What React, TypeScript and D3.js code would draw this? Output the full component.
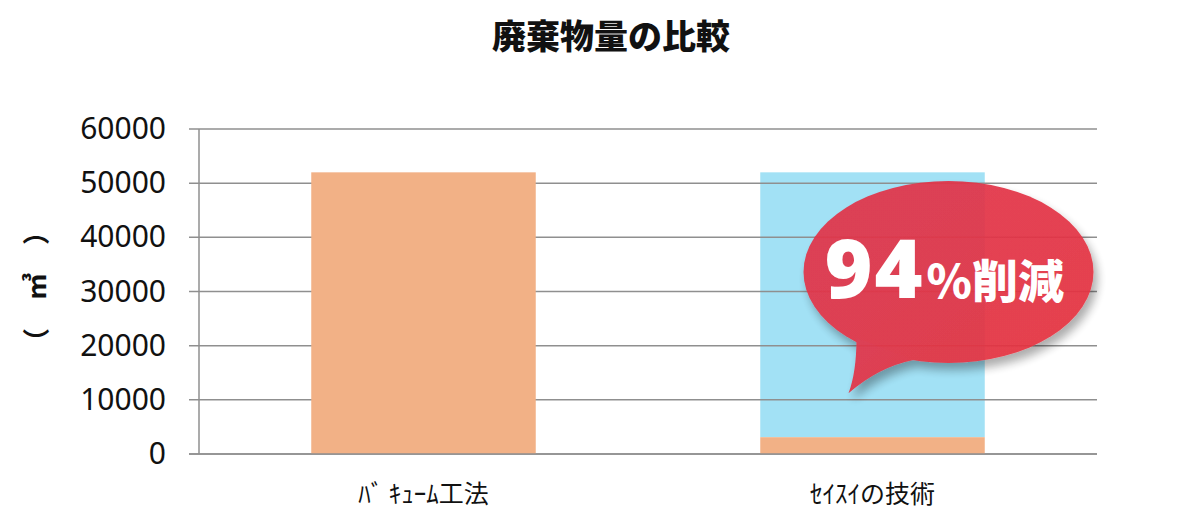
import React from "react";
import * as d3 from "d3";

const title = "廃棄物量の比較";
const categories = ["ﾊﾞ ｷｭｰﾑ工法", "ｾｲｽｲの技術"];
const remainingWaste = [52000, 3100];
const reducedWaste = [0, 48900];
const yTicks = [0, 10000, 20000, 30000, 40000, 50000, 60000];
const yAxisLabel = "（㎥）";
const calloutBig = "94";
const calloutSmall = "%削減";

const W = 1200;
const H = 521;
const left = 199;
const right = 1097;
const top = 129;
const bottom = 454;

export default function App() {
  const x = d3.scaleBand<string>().domain(categories).range([left, right]).paddingInner(0.5).paddingOuter(0.25);
  const y = d3.scaleLinear().domain([0, 60000]).range([bottom, top]);

  const orange = "#f2b186";
  const blue = "#a2e1f5";

  const cx = (x(categories[1]) as number) + x.bandwidth() / 2 + 76;
  const cy = y(33600);
  const rx = 145;
  const ry = 91;
  const tipX = cx - 100;
  const tipY = y(11200);

  const tail = `M${cx - 92},${cy + 66} Q${cx - 92},${cy + 100} ${tipX},${tipY} Q${cx - 70},${cy + 95} ${cx - 35},${cy + 88} Z`;

  return (
    <svg width={W} height={H} style={{ position: "fixed", left: 0, top: 0, background: "#fff" }} fontFamily="'Noto Sans', 'Noto Sans CJK JP', sans-serif">
      <defs>
        <filter id="shadow" x="-20%" y="-20%" width="150%" height="160%">
          <feDropShadow dx="4" dy="7" stdDeviation="5" floodColor="#000" floodOpacity="0.35" />
        </filter>
        <linearGradient id="redgrad" x1="0" y1="0" x2="1" y2="1">
          <stop offset="0" stopColor="#e0344c" />
          <stop offset="1" stopColor="#e5333f" />
        </linearGradient>
      </defs>
      <text x={611} y={49} textAnchor="middle" fontSize={34} fontWeight={900} fontFamily="'Noto Sans CJK JP', sans-serif" fill="#111">
        {title}
      </text>

      {categories.map((c, i) =>
        reducedWaste[i] > 0 ? (
          <rect key={"b" + c} x={x(c)} width={x.bandwidth()} y={y(remainingWaste[i] + reducedWaste[i])} height={y(remainingWaste[i]) - y(remainingWaste[i] + reducedWaste[i])} fill={blue} />
        ) : null
      )}

      {yTicks.map((t) => (
        <g key={t}>
          <line x1={left - 10} x2={right} y1={y(t)} y2={y(t)} stroke="#8f8f8f" strokeWidth={1.5} />
          <text x={166} y={y(t) + 10} textAnchor="end" fontSize={30} fill="#111">
            {t}
          </text>
        </g>
      ))}
      <line x1={left} x2={left} y1={top} y2={bottom} stroke="#8f8f8f" strokeWidth={1.5} />

      {categories.map((c, i) => (
        <rect key={"o" + c} x={x(c)} width={x.bandwidth()} y={y(remainingWaste[i])} height={bottom - y(remainingWaste[i])} fill={orange} />
      ))}
      <line x1={left - 10} x2={right} y1={bottom} y2={bottom} stroke="#8f8f8f" strokeWidth={1.5} />

      {categories.map((c) => (
        <text key={"l" + c} x={(x(c) as number) + x.bandwidth() / 2} y={503} textAnchor="middle" fontSize={25} fontFamily="'Noto Sans CJK JP', sans-serif" fill="#111">
          {c}
        </text>
      ))}

      <text transform={`translate(46,${(top + bottom) / 2 - 19}) rotate(-90)`} textAnchor="middle" fontSize={27} fontWeight={700} letterSpacing={28} fontFamily="'Noto Sans CJK JP', sans-serif" fill="#111">
        {yAxisLabel}
      </text>

      <g filter="url(#shadow)" opacity={0.93}>
        <ellipse cx={cx} cy={cy} rx={rx} ry={ry} fill="url(#redgrad)" />
        <path d={tail} fill="url(#redgrad)" />
      </g>
      <text x={cx - 124} y={cy + 26} fill="#fff" fontWeight={900} fontFamily="'Noto Sans', sans-serif">
        <tspan fontSize={82} letterSpacing={2}>{calloutBig}</tspan>
        <tspan fontSize={46} fontFamily="'Noto Sans CJK JP', sans-serif" dx={2}>{calloutSmall}</tspan>
      </text>
    </svg>
  );
}
